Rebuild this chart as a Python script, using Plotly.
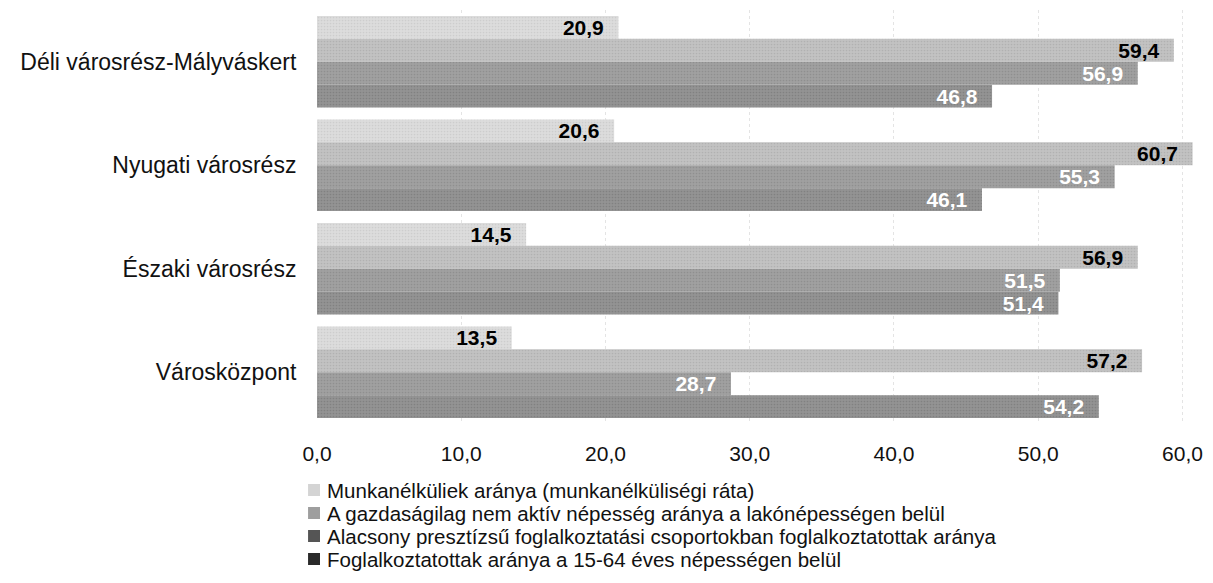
import plotly.graph_objects as go

# ---------------- data ----------------
categories = [
    "Déli városrész-Mályváskert",
    "Nyugati városrész",
    "Északi városrész",
    "Városközpont",
]
series_names = [
    "Munkanélküliek aránya (munkanélküliségi ráta)",
    "A gazdaságilag nem aktív népesség aránya a lakónépességen belül",
    "Alacsony presztízsű foglalkoztatási csoportokban foglalkoztatottak aránya",
    "Foglalkoztatottak aránya a 15-64 éves népességen belül",
]
unemployment_rate = [20.9, 20.6, 14.5, 13.5]
inactive_share = [59.4, 60.7, 56.9, 57.2]
low_prestige_share = [56.9, 55.3, 51.5, 28.7]
employed_share = [46.8, 46.1, 51.4, 54.2]
x_tick_values = [0, 10, 20, 30, 40, 50, 60]

# ---------------- styles ----------------
FONT = "Arial, 'Liberation Sans', sans-serif"
bg_colors = ["#dcdcdc", "#c2c2c2", "#a0a0a0", "#939393"]
fg_colors = ["#bdbdbd", "#9f9f9f", "#7e7e7e", "#707070"]
legend_swatch_colors = ["#d4d4d4", "#9e9e9e", "#555555", "#2a2a2a"]
text_colors = ["#000000", "#000000", "#ffffff", "#ffffff"]

W, H = 1213, 583
L, R, T, B = 317, 14, 10, 159
plot_w = W - L - R
plot_h = H - T - B


def px_x(px):
    return (px - L) / plot_w


def px_y(py):
    return (H - B - py) / plot_h


series_values = [unemployment_rate, inactive_share, low_prestige_share, employed_share]

fig = go.Figure()
for name, vals, bg, fg, tc in zip(series_names, series_values, bg_colors, fg_colors, text_colors):
    fig.add_trace(
        go.Bar(
            name=name,
            y=categories,
            x=vals,
            orientation="h",
            marker=dict(
                color=bg,
                line=dict(width=0),
                pattern=dict(shape=".", fgcolor=fg, bgcolor=bg, size=3, solidity=0.25),
            ),
            texttemplate="<b>%{x:.1f}</b>\u00a0\u00a0",
            textposition="inside",
            insidetextanchor="end",
            constraintext="none",
            textfont=dict(family=FONT, size=21, color=tc),
            showlegend=False,
        )
    )

# legend built as text next to small coloured squares
legend_rows_y = [490, 513, 536, 559]
for name, sw, ry in zip(series_names, legend_swatch_colors, legend_rows_y):
    fig.add_shape(
        type="rect",
        xref="paper", yref="paper",
        x0=px_x(308), x1=px_x(320),
        y0=px_y(ry + 6), y1=px_y(ry - 6),
        fillcolor=sw,
        line=dict(width=0),
    )
    fig.add_annotation(
        xref="paper", yref="paper",
        x=px_x(325), y=px_y(ry),
        xanchor="left", yanchor="middle",
        text=name,
        showarrow=False,
        font=dict(family=FONT, size=20.5, color="#111111"),
    )

fig.update_layout(
    width=W,
    height=H,
    margin=dict(l=L, r=R, t=T, b=B, pad=0),
    paper_bgcolor="white",
    plot_bgcolor="white",
    barmode="group",
    bargap=0.115,
    bargroupgap=0,
    separators=", ",
    showlegend=False,
    font=dict(family=FONT, color="#111111"),
)
fig.update_xaxes(
    range=[0, 60.8],
    tickvals=x_tick_values,
    tickformat=".1f",
    showgrid=True,
    gridcolor="#e4e4e4",
    griddash="dot",
    gridwidth=1,
    zeroline=False,
    showline=False,
    ticks="outside",
    ticklen=11,
    tickcolor="rgba(0,0,0,0)",
    tickfont=dict(family=FONT, size=21, color="#111111"),
)
fig.update_yaxes(
    autorange="reversed",
    showgrid=False,
    showline=False,
    zeroline=False,
    ticks="outside",
    ticklen=15,
    tickcolor="rgba(0,0,0,0)",
    tickfont=dict(family=FONT, size=23, color="#111111"),
)

fig.write_html(
    "out.html",
    config={"displayModeBar": False},
    post_script="document.body.style.margin='0';",
)
